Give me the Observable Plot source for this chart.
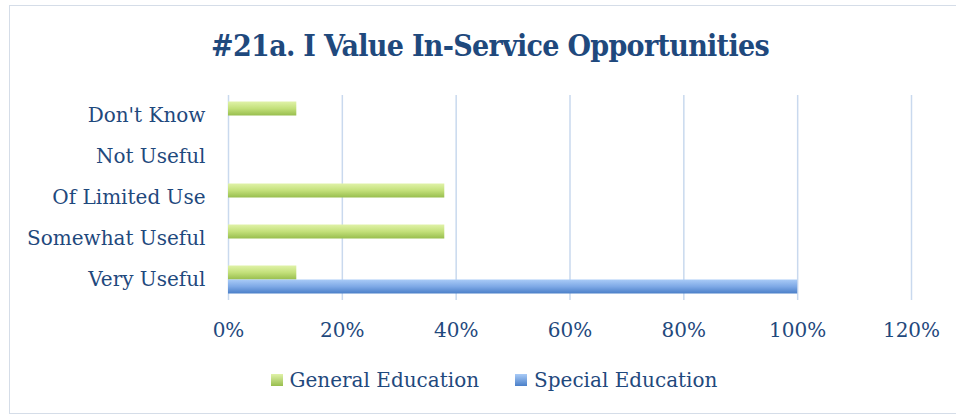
<!DOCTYPE html>
<html>
<head>
<meta charset="utf-8">
<script src="https://cdn.jsdelivr.net/npm/d3@7"></script>
<script src="https://cdn.jsdelivr.net/npm/@observablehq/plot@0.6"></script>
<style>
  body { margin:0; width:956px; height:417px; overflow:hidden; position:relative; background:#fff; }
  #frame { position:absolute; left:9px; top:5px; width:980px; height:409px; border:1px solid #D5DDE8; box-sizing:border-box; }
  #title { position:absolute; top:28px; left:0; width:980px; text-align:center; font-family:"DejaVu Serif Condensed","DejaVu Serif",serif; font-weight:bold; font-size:30px; letter-spacing:-0.7px; color:#1F497D; }
  #chart { position:absolute; left:0; top:85px; }
  #legend { position:absolute; top:368px; left:0; width:988px; display:flex; justify-content:center; gap:36px; font-family:"DejaVu Serif",serif; font-size:20px; color:#1F497D; }
  #legend .item { display:flex; align-items:center; gap:7px; }
  #legend .sw { width:12px; height:12px; display:inline-block; }
</style>
</head>
<body>
<div id="frame"></div>
<div id="title">#21a. I Value In-Service Opportunities</div>
<div id="chart"></div>
<div id="legend"></div>
<script>
const categories = ["Don't Know", "Not Useful", "Of Limited Use", "Somewhat Useful", "Very Useful"];
const seriesNames = ["General Education", "Special Education"];
const generalEducation = [0.12, 0, 0.38, 0.38, 0.12];
const specialEducation = [0, 0, 0, 0, 1.00];
const xTicks = [0, 0.2, 0.4, 0.6, 0.8, 1.0, 1.2];

const gen = categories.map((c, i) => ({category: c, value: generalEducation[i]}));
const spe = categories.map((c, i) => ({category: c, value: specialEducation[i]}));

const textColor = "#1F497D";
const gridColor = "#C9D9EE";

const plot = Plot.plot({
  width: 956,
  height: 260,
  marginLeft: 228,
  marginRight: 45,
  marginTop: 10,
  marginBottom: 45,
  style: {fontFamily: "'DejaVu Serif',serif", fontSize: "20px", color: textColor, background: "transparent", overflow: "visible"},
  x: {domain: [0, 1.2], ticks: xTicks, tickFormat: d3.format(".0%"), tickSize: 0, tickPadding: 22, label: null},
  y: {domain: categories, padding: 0, tickSize: 0, tickPadding: 23, label: null},
  marks: [
    Plot.ruleX(xTicks, {stroke: gridColor, strokeWidth: 1.5}),
    Plot.barX(gen.filter(d => d.value > 0), {y: "category", x: "value", fill: "url(#gradGreen)", insetTop: 6.5, insetBottom: 20.5, style: "filter: drop-shadow(2px 3px 2px rgba(0,0,0,0.28))"}),
    Plot.barX(spe.filter(d => d.value > 0), {y: "category", x: "value", fill: "url(#gradBlue)", insetTop: 20.5, insetBottom: 6.5, style: "filter: drop-shadow(2px 3px 2px rgba(0,0,0,0.28))"})
  ]
});

const ns = "http://www.w3.org/2000/svg";
const defs = document.createElementNS(ns, "defs");
defs.innerHTML = `
  <linearGradient id="gradGreen" x1="0" y1="0" x2="0" y2="1">
    <stop offset="0" stop-color="#E0F2A8"/>
    <stop offset="0.5" stop-color="#C3E07A"/>
    <stop offset="1" stop-color="#98BE4E"/>
  </linearGradient>
  <linearGradient id="gradBlue" x1="0" y1="0" x2="0" y2="1">
    <stop offset="0" stop-color="#A9CBF7"/>
    <stop offset="0.5" stop-color="#7EA9E6"/>
    <stop offset="1" stop-color="#4A7FC8"/>
  </linearGradient>`;
plot.insertBefore(defs, plot.firstChild);
document.getElementById("chart").appendChild(plot);

const legend = document.getElementById("legend");
const swatches = ["linear-gradient(#E0F2A8,#98BE4E)", "linear-gradient(#A9CBF7,#4A7FC8)"];
seriesNames.forEach((name, i) => {
  const item = document.createElement("div");
  item.className = "item";
  const sw = document.createElement("span");
  sw.className = "sw";
  sw.style.background = swatches[i];
  const t = document.createElement("span");
  t.textContent = name;
  item.appendChild(sw); item.appendChild(t);
  legend.appendChild(item);
});
</script>
</body>
</html>
